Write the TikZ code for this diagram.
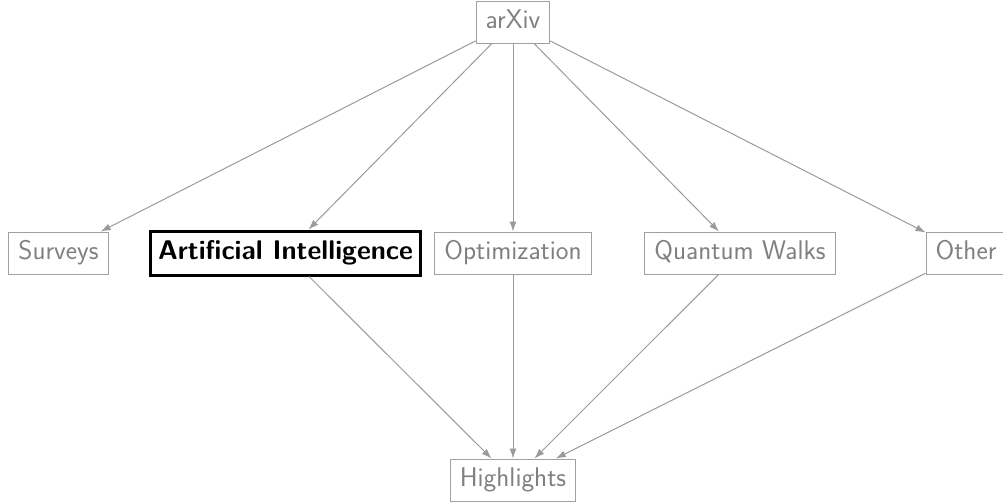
\documentclass[tikz,border=0pt]{standalone}
\usepackage{fontspec}
\usetikzlibrary{arrows.meta}
\definecolor{boxgray}{HTML}{A0A0A0}
\definecolor{txtgray}{HTML}{808080}
\definecolor{linegray}{HTML}{9A9A9A}
\begin{document}
\begin{tikzpicture}[x=1pt,y=-1pt,
  box/.style={draw=boxgray,line width=1pt,text=txtgray,font=\sffamily\fontsize{27}{31}\selectfont,
    inner xsep=9.5pt,inner ysep=0pt,text height=19pt,text depth=6pt,minimum height=42pt},
  hibox/.style={box,draw=black,line width=3pt,text=black,inner xsep=8pt,minimum height=44pt,font=\sffamily\bfseries\fontsize{27}{31}\selectfont},
  edge/.style={draw=linegray,line width=1pt,-{Latex[length=10pt,width=7pt]}}]
\useasboundingbox (0,0) rectangle (1003,501);
\node[box] (arxiv) at (513,22) {arXiv};
\node[box] (surveys) at (58.5,253) {Surveys};
\node[hibox] (ai) at (285.5,253) {Artificial Intelligence};
\node[box] (opt) at (513,253) {Optimization};
\node[box] (qw) at (740,253) {Quantum Walks};
\node[box] (other) at (966,253) {Other};
\node[box] (hl) at (513,480) {Highlights};
\foreach \t in {surveys,ai,opt,qw,other} \draw[edge] (arxiv) -- (\t);
\foreach \s in {ai,opt,qw,other} \draw[edge] (\s) -- (hl);
\end{tikzpicture}
\end{document}
